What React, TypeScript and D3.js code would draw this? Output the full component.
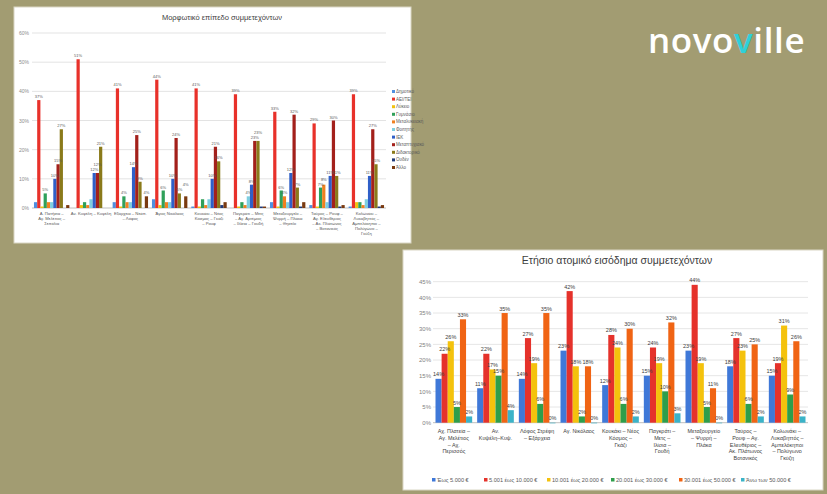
import React from "react";
import * as d3 from "d3";

// ---------- Left chart data (education) ----------
const eduTitle = "Μορφωτικό επίπεδο συμμετεχόντων";
const eduSeries = ["Δημοτικό", "ΑΕΙ/ΤΕΙ", "Λύκειο", "Γυμνάσιο", "Μεταλυκειακή", "Φοιτητής", "ΙΕΚ", "Μεταπτυχιακό", "Διδακτορικό", "Ουδέν", "Άλλο"];
const eduColors = ["#4f8fe0", "#e8312a", "#f2c10f", "#2fa05a", "#f08020", "#7ecfe0", "#2f5fc8", "#a3201b", "#8a7a1a", "#1f3a7a", "#7a3a10"];
const eduCatLines = [
  ["Α. Πατήσια –", "Αγ. Μελέτιος –", "Σεπόλια"],
  ["Αν. Κυψέλη – Κυψέλη"],
  ["Εξάρχεια – Νεάπ.", "– Λόφος"],
  ["Άγιος Νικόλαος"],
  ["Κουκάκι – Νέος", "Κόσμος – Γκάζι", "– Ρουφ"],
  ["Παγκράτι – Μετς", "– Αγ. Αρτέμιος", "– Ιλίσια – Γουδή"],
  ["Μεταξουργείο –", "Ψυρρή – Πλάκα", "– Θησείο"],
  ["Ταύρος – Ρουφ –", "Αγ. Ελευθέριος", "– Ακ. Πλάτωνος", "– Βοτανικός"],
  ["Κολωνάκι –", "Λυκαβηττός –", "Αμπελόκηποι –", "Πολύγωνο –", "Γκύζη"],
];
const eduValues: number[][] = [
  [2, 37, 0.5, 5, 2, 2, 10, 15, 27, 0, 1],
  [0, 51, 1, 2, 1, 3, 12, 12, 21, 0, 0],
  [2, 41, 0.5, 4, 2, 2, 14, 25, 9, 0, 4],
  [3, 44, 1, 6, 2, 2, 10, 24, 5, 0, 4],
  [0.5, 41, 0.5, 3, 1, 3, 10, 21, 16, 1, 2],
  [0, 39, 0.5, 2, 1, 4, 8, 23, 23, 0.5, 0.5],
  [2, 33, 0.5, 6, 4, 2, 12, 32, 7, 0.5, 2],
  [1, 29, 0.5, 7, 8, 2, 11, 30, 11, 0.5, 1],
  [0.5, 39, 2, 2, 1, 3, 11, 27, 15, 0.5, 1],
];
const eduTicks = [0, 10, 20, 30, 40, 50, 60];

// ---------- Right chart data (income) ----------
const incTitle = "Ετήσιο ατομικό εισόδημα συμμετεχόντων";
const incSeries = ["Έως 5.000 €", "5.001 έως 10.000 €", "10.001 έως 20.000 €", "20.001 έως 30.000 €", "30.001 έως 50.000 €", "Άνω των 50.000 €"];
const incColors = ["#3f78d8", "#e5322b", "#f4c20d", "#2e9e4b", "#f06414", "#3bb3c8"];
const incCatLines = [
  ["Αχ. Πλατεία –", "Αγ. Μελέτιος", "– Αχ.", "Περισσός"],
  ["Αν.", "Κυψέλη–Κυψ."],
  ["Λόφος Στρέφη", "– Εξάρχεια"],
  ["Αγ. Νικόλαος"],
  ["Κουκάκι – Νέος", "Κόσμος –", "Γκάζι"],
  ["Παγκράτι –", "Μετς –", "Ιλίσια –", "Γουδή"],
  ["Μεταξουργείο", "– Ψυρρή –", "Πλάκα"],
  ["Ταύρος –", "Ρουφ – Αγ.", "Ελευθέριος –", "Ακ. Πλάτωνος", "Βοτανικός"],
  ["Κολωνάκι –", "Λυκαβηττός –", "Αμπελόκηποι", "– Πολύγωνο", "Γκύζη"],
];
const incValues: number[][] = [
  [14, 22, 26, 5, 33, 2],
  [11, 22, 17, 15, 35, 4],
  [14, 27, 19, 6, 35, 0],
  [23, 42, 18, 2, 18, 0],
  [12, 28, 24, 6, 30, 2],
  [15, 24, 19, 10, 32, 3],
  [23, 44, 19, 5, 11, 0],
  [18, 27, 23, 6, 25, 2],
  [15, 19, 31, 9, 26, 2],
];
const incTicks = [0, 5, 10, 15, 20, 25, 30, 35, 40, 45];

const FONT = "'Liberation Sans', Arial, sans-serif";

function EduChart() {
  const cats = eduCatLines.map((_, i) => "c" + i);
  const x = d3.scaleBand().domain(cats).range([32, 386]).paddingInner(0.1).paddingOuter(0.05);
  const xs = d3.scaleBand().domain(eduSeries).range([0, x.bandwidth()]);
  const y = d3.scaleLinear().domain([0, 60]).range([208, 33]);
  return (
    <g>
      <rect x={14} y={7} width={397} height={236} fill="#ffffff" stroke="#d9d6c4" />
      <text x={222} y={20} textAnchor="middle" fontSize={7.5} fill="#404040" fontFamily={FONT}>{eduTitle}</text>
      {eduTicks.map((t) => (
        <g key={t}>
          {t > 0 && <line x1={32} x2={386} y1={y(t)} y2={y(t)} stroke="#e3e3e3" strokeWidth={1} />}
          <text x={29} y={y(t) + 2} textAnchor="end" fontSize={5} fill="#8c8c8c" fontFamily={FONT}>{t}%</text>
        </g>
      ))}
      <line x1={32} x2={386} y1={y(0)} y2={y(0)} stroke="#bfbfbf" />
      {eduValues.map((row, ci) => {
        // label positions, staggered when two shown neighbours collide
        const labels: { si: number; ly: number }[] = [];
        row.forEach((v, si) => {
          if (!(v >= 4 || si === 1)) return;
          let ly = y(v) - 2;
          const prev = labels[labels.length - 1];
          if (prev && si - prev.si <= 2 && Math.abs(prev.ly - ly) < 5) ly = prev.ly - 5;
          labels.push({ si, ly });
        });
        return (
          <g key={ci} transform={`translate(${x(cats[ci])},0)`}>
            {row.map((v, si) => (
              <rect key={si} x={xs(eduSeries[si])} y={y(v)} width={xs.bandwidth()} height={y(0) - y(v)} fill={eduColors[si]} />
            ))}
            {labels.map(({ si, ly }) => (
              <text key={"l" + si} x={(xs(eduSeries[si]) || 0) + xs.bandwidth() / 2} y={ly} textAnchor="middle" fontSize={4} fill="#595959" fontFamily={FONT}>
                {Math.round(row[si])}%
              </text>
            ))}
            {eduCatLines[ci].map((ln, li) => (
              <text key={"c" + li} x={x.bandwidth() / 2} y={215 + li * 5} textAnchor="middle" fontSize={4.2} fill="#595959" fontFamily={FONT}>{ln}</text>
            ))}
          </g>
        );
      })}
      {eduSeries.map((s, i) => (
        <g key={s}>
          <rect x={392} y={90 + i * 7.6} width={3} height={3} fill={eduColors[i]} />
          <text x={396} y={93 + i * 7.6} fontSize={4.5} fill="#595959" fontFamily={FONT}>{s}</text>
        </g>
      ))}
    </g>
  );
}

function IncChart() {
  const cats = incCatLines.map((_, i) => "c" + i);
  const x = d3.scaleBand().domain(cats).range([433, 808]).paddingInner(0.12).paddingOuter(0.06);
  const xs = d3.scaleBand().domain(incSeries).range([0, x.bandwidth()]);
  const y = d3.scaleLinear().domain([0, 45]).range([422.7, 281.7]);
  const legendX = [432, 484, 547, 611, 679, 741];
  return (
    <g>
      <rect x={403} y={250} width={420} height={240} fill="#ffffff" stroke="#d9d6c4" />
      <text x={617} y={264} textAnchor="middle" fontSize={10.5} fill="#404040" fontFamily={FONT}>{incTitle}</text>
      {incTicks.map((t) => (
        <g key={t}>
          {t > 0 && <line x1={433} x2={808} y1={y(t)} y2={y(t)} stroke="#e6e6e6" strokeWidth={1} />}
          <text x={431} y={y(t) + 2.2} textAnchor="end" fontSize={6} fill="#7f7f7f" fontFamily={FONT}>{t}%</text>
        </g>
      ))}
      <line x1={433} x2={808} y1={y(0)} y2={y(0)} stroke="#bfbfbf" />
      {incValues.map((row, ci) => (
        <g key={ci} transform={`translate(${x(cats[ci])},0)`}>
          {row.map((v, si) => (
            <rect key={si} x={xs(incSeries[si])} y={y(v)} width={xs.bandwidth()} height={Math.max(0.6, y(0) - y(v))} fill={incColors[si]} />
          ))}
          {row.map((v, si) => (
            <text key={"l" + si} x={(xs(incSeries[si]) || 0) + xs.bandwidth() / 2} y={y(v) - 2.5} textAnchor="middle" fontSize={5.5} fill="#404040" fontFamily={FONT}>
              {v}%
            </text>
          ))}
          {incCatLines[ci].map((ln, li) => (
            <text key={"c" + li} x={x.bandwidth() / 2} y={433 + li * 6.8} textAnchor="middle" fontSize={5.4} fill="#404040" fontFamily={FONT}>{ln}</text>
          ))}
        </g>
      ))}
      {incSeries.map((s, i) => (
        <g key={s}>
          <rect x={legendX[i]} y={478} width={3.5} height={3.5} fill={incColors[i]} />
          <text x={legendX[i] + 5} y={482} fontSize={5.6} fill="#595959" fontFamily={FONT}>{s}</text>
        </g>
      ))}
    </g>
  );
}

export default function App() {
  return (
    <svg width={827} height={494} style={{ position: "absolute", left: 0, top: 0 }}>
      <rect x={0} y={0} width={827} height={494} fill="#a29c72" />
      <EduChart />
      <IncChart />
      <text x={648} y={53} fontSize={35} letterSpacing={0.6} fill="#ffffff" fontFamily="'Open Sans', sans-serif" fontWeight={600}>
        novo<tspan fill="#2fd0d8">v</tspan>ille
      </text>
    </svg>
  );
}
